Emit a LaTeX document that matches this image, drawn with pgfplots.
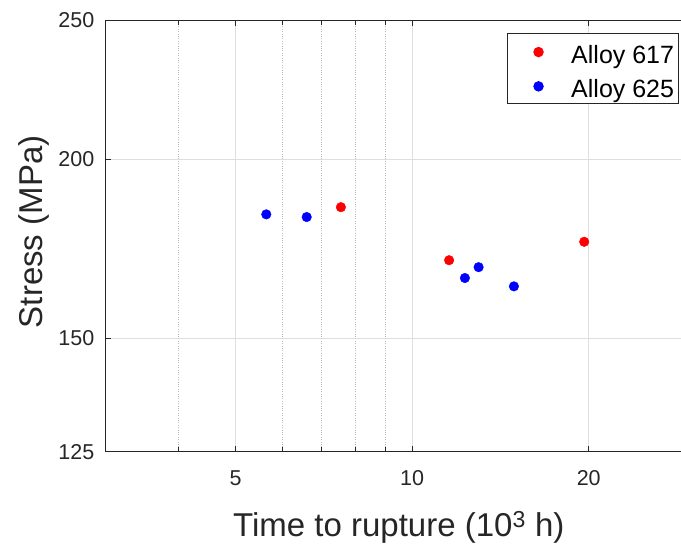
\documentclass[border=0pt]{standalone}
\usepackage{fontspec}
\setmainfont{Liberation Sans}
\usepackage{pgfplots}
\pgfplotsset{compat=1.18}
\definecolor{axgray}{gray}{0.15}
\definecolor{gridgray}{gray}{0.87}
\definecolor{mgridgray}{gray}{0.72}
\begin{document}
\begin{tikzpicture}
\begin{axis}[
  at={(0pt,0pt)}, anchor=south west,
  scale only axis, width=586.5pt, height=431.7pt,
  xmode=log, ymode=log,
  xmin=3, xmax=30, ymin=125, ymax=250,
  xtick={5,10,20}, xticklabels={5,10,20},
  minor xtick={3,4,6,7,8,9,30},
  ytick={125,150,200,250}, yticklabels={125,150,200,250},
  minor ytick={},
  xmajorgrids, ymajorgrids, xminorgrids,
  major grid style={gridgray, line width=0.6pt},
  minor grid style={mgridgray, dotted, line width=0.6pt},
  tick align=inside,
  major tick length=6pt, minor tick length=5pt,
  axis line style={axgray, line width=0.9pt},
  every tick/.style={axgray, line width=0.9pt},
  /pgf/number format/assume math mode=true,
  ticklabel style={font=\fontsize{21.5}{24}\selectfont, text=axgray},
  xticklabel style={inner sep=0pt, anchor=north, yshift=-19pt},
  yticklabel style={inner sep=0pt, anchor=east, xshift=-11pt},
  xlabel={Time to rupture (10\textsuperscript{3} h)},
  ylabel={Stress (MPa)},
  label style={font=\fontsize{33}{38}\selectfont, text=axgray},
  xlabel style={at={(axis description cs:0.5,0)}, anchor=base, yshift=-85.3pt},
  ylabel style={at={(axis description cs:0,0.5)}, anchor=base, xshift=4pt, yshift=63.5pt},
  legend style={at={(axis description cs:0.9778,0.9692)}, anchor=north east,
    font=\fontsize{25}{30}\selectfont, draw=axgray, line width=0.8pt, fill=white,
    inner xsep=4.5pt, inner ysep=3pt, row sep=4.6pt, column sep=0pt,
    nodes={inner sep=0pt, text height=27pt, text depth=2.7pt},
    cells={anchor=base west}},
  legend image code/.code={%
    \path[draw=none, fill=none] (0pt,0pt) -- (59.8pt,0pt);
    \draw[#1] plot coordinates {(27.1pt,11.6pt)};},
]
\addplot[only marks, mark=*, mark size=4.8pt, color=red, mark options={draw=red, fill=red}]
  coordinates {(7.56,185.1) (11.56,170.0) (19.65,175.1)};
\addlegendentry{Alloy 617}
\addplot[only marks, mark=*, mark size=4.8pt, color=blue, mark options={draw=blue, fill=blue}]
  coordinates {(5.64,183.0) (6.61,182.2) (12.30,165.2) (12.98,168.1) (14.91,163.0)};
\addlegendentry{Alloy 625}
\end{axis}
\pgfresetboundingbox
\useasboundingbox (-105.5pt,-93.3pt) rectangle (575.5pt,451.7pt);
\end{tikzpicture}
\end{document}
